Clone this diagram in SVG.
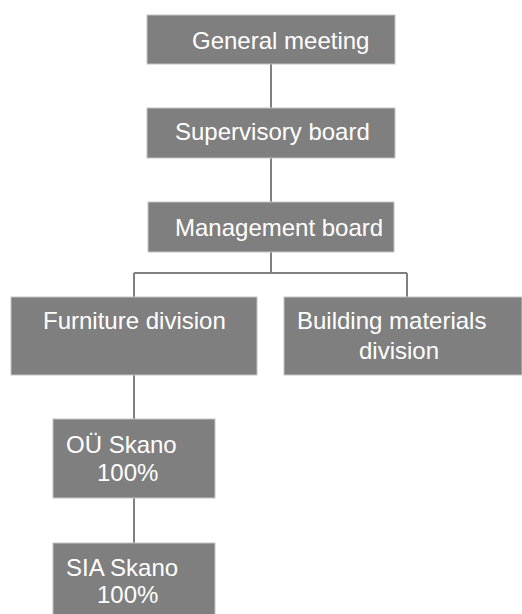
<svg xmlns="http://www.w3.org/2000/svg" width="522" height="614" viewBox="0 0 522 614">
<style>
.box{fill:#7f7f7f;stroke:#c4c4c4;stroke-width:1}
.t{font-family:"Liberation Sans",Arial,sans-serif;font-size:24px;fill:#ffffff}
.c{stroke:#808080;stroke-width:2;fill:none}
</style>
<rect width="522" height="614" fill="#ffffff"/>
<g id="connectors">
<path class="c" d="M271 64V108M271 158V202M271 252V273M134 273H407M134 273V297M407 273V297M134 375V419M134 498V543"/>
</g>
<g id="general-meeting">
<rect class="box" x="147" y="15" width="248" height="49"/>
<text class="t" x="192" y="49">General meeting</text>
</g>
<g id="supervisory-board">
<rect class="box" x="147" y="108" width="248" height="50"/>
<text class="t" x="175" y="140">Supervisory board</text>
</g>
<g id="management-board">
<rect class="box" x="148" y="202" width="246" height="50"/>
<text class="t" x="175" y="236">Management board</text>
</g>
<g id="furniture-division">
<rect class="box" x="11" y="297" width="246" height="78"/>
<text class="t" x="43" y="329">Furniture division</text>
</g>
<g id="building-materials-division">
<rect class="box" x="284" y="297" width="238" height="78"/>
<text class="t" x="297" y="329">Building materials</text>
<text class="t" x="359" y="359">division</text>
</g>
<g id="ou-skano">
<rect class="box" x="53" y="419" width="162" height="79"/>
<text class="t" x="66" y="453">OÜ Skano</text>
<text class="t" x="97" y="481">100%</text>
</g>
<g id="sia-skano">
<rect class="box" x="53" y="543" width="162" height="80"/>
<text class="t" x="66" y="576">SIA Skano</text>
<text class="t" x="97" y="603">100%</text>
</g>
</svg>
